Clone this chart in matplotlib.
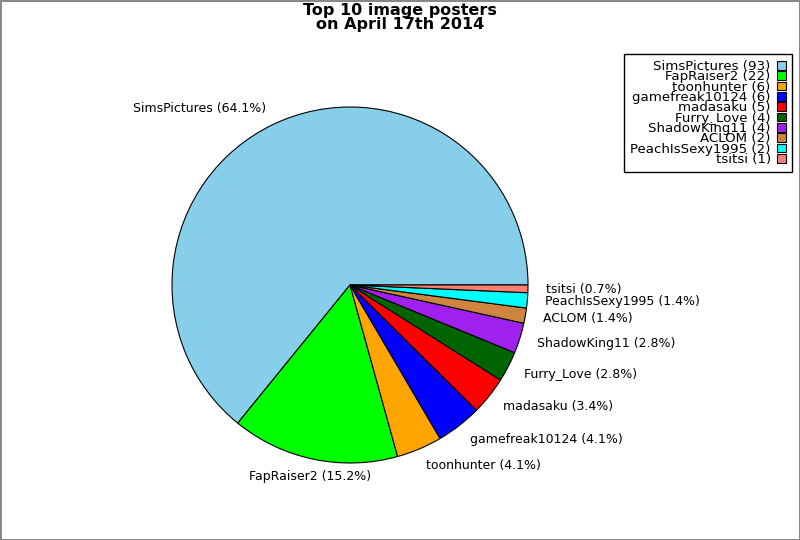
import matplotlib
matplotlib.use('Agg')
import matplotlib.pyplot as plt

names = ['SimsPictures', 'FapRaiser2', 'toonhunter', 'gamefreak10124', 'madasaku',
         'Furry_Love', 'ShadowKing11', 'ACLOM', 'PeachIsSexy1995', 'tsitsi']
counts = [93, 22, 6, 6, 5, 4, 4, 2, 2, 1]
colors = ['#87ceeb', '#00ff00', '#ffa500', '#0000ff', '#ff0000',
          '#006400', '#a020f0', '#cd853f', '#00ffff', '#fa8072']

total = float(sum(counts))
pie_labels = ['%s (%.1f%%)' % (n, 100.0 * c / total) for n, c in zip(names, counts)]
legend_labels = ['%s (%d)' % (n, c) for n, c in zip(names, counts)]

fig = plt.figure(figsize=(8.0, 5.4), dpi=100)
fig.patch.set_edgecolor('#888888')
fig.patch.set_linewidth(2)

# pie centre at (350, 285) px, radius 178 px
r = 178
ax = fig.add_axes([(350 - r) / 800., (540 - 285 - r) / 540., 2 * r / 800., 2 * r / 540.])
wedges, texts = ax.pie(counts, labels=pie_labels, colors=colors, startangle=0,
                       labeldistance=1.1,
                       wedgeprops={'edgecolor': 'black', 'linewidth': 0.8},
                       textprops={'fontsize': 9})
ax.set_xlim(-1, 1)
ax.set_ylim(-1, 1)
ax.set_aspect('equal')
ax.axis('off')
texts[1].set_ha('center')

fig.suptitle('Top 10 image posters\non April 17th 2014', x=0.5, y=1 - 3 / 540.,
             va='top', fontsize=11.5, fontweight='bold', linespacing=0.95)

leg = fig.legend(wedges, legend_labels, loc='upper right',
                 bbox_to_anchor=(792 / 800., 1 - 54 / 540.), borderaxespad=0,
                 markerfirst=False, fancybox=False, framealpha=1, fontsize=9.6,
                 labelspacing=-0.2, handlelength=0.65, handleheight=0.65,
                 handletextpad=0.5, borderpad=0.45)
leg.get_frame().set_edgecolor('black')
leg.get_frame().set_linewidth(1)
for t in leg.get_texts():
    t.set_ha('right')

fig.savefig('out.png', dpi=100, edgecolor=fig.get_edgecolor())
